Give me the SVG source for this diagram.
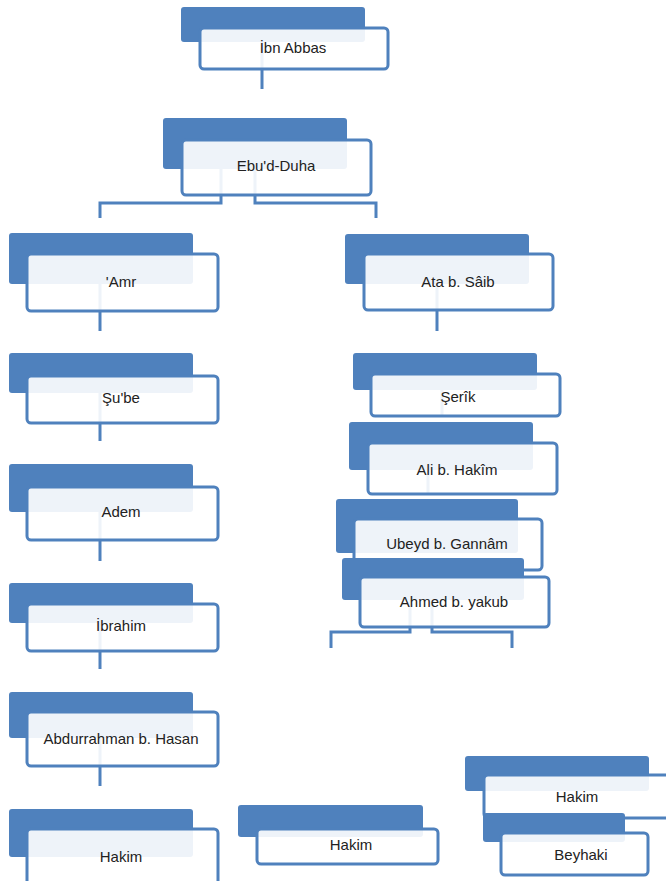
<svg xmlns="http://www.w3.org/2000/svg" width="666" height="881" viewBox="0 0 666 881">
<style>
.bk{fill:#4F81BD;}
.fr{fill:#FFFFFF;fill-opacity:0.9;stroke:#4F81BD;stroke-width:3;}
.t{font-family:"Liberation Sans",Arial,sans-serif;font-size:15px;fill:#222;text-anchor:middle;}
.c{fill:none;stroke:#4F81BD;stroke-width:3;}
</style>
<rect width="666" height="881" fill="#FFFFFF"/>
<g id="connectors">
<path class="c" d="M262 41V89"/>
<path class="c" d="M221 169V203H100V218"/>
<path class="c" d="M255 169V203H376V218"/>
<path class="c" d="M100 284V331"/>
<path class="c" d="M437 284V331"/>
<path class="c" d="M100 393V441"/>
<path class="c" d="M100 512V561"/>
<path class="c" d="M100 623V669"/>
<path class="c" d="M100 738V786"/>
<path class="c" d="M442 390V416"/>
<path class="c" d="M428 470V494"/>
<path class="c" d="M410 600V632H331V648"/>
<path class="c" d="M432 600V632H512V648"/>
</g>
<g id="n1"><rect class="bk" x="181" y="7" width="184" height="35" rx="3"/><rect class="fr" x="200" y="28" width="188" height="41" rx="4"/><text class="t" x="293" y="53">İbn Abbas</text></g>
<g id="n2"><rect class="bk" x="163" y="118" width="184" height="51" rx="3"/><rect class="fr" x="182" y="140" width="189" height="55" rx="4"/><text class="t" x="276" y="171">Ebu'd-Duha</text></g>
<g id="n3"><rect class="bk" x="9" y="233" width="184" height="51" rx="3"/><rect class="fr" x="27" y="254" width="191" height="57" rx="4"/><text class="t" x="121" y="287">'Amr</text></g>
<g id="n4"><rect class="bk" x="345" y="234" width="184" height="50" rx="3"/><rect class="fr" x="364" y="254" width="189" height="56" rx="4"/><text class="t" x="458" y="287">Ata b. Sâib</text></g>
<g id="n5"><rect class="bk" x="9" y="353" width="184" height="40" rx="3"/><rect class="fr" x="27" y="376" width="191" height="47" rx="4"/><text class="t" x="121" y="403">Şu'be</text></g>
<g id="n6"><rect class="bk" x="9" y="464" width="184" height="48" rx="3"/><rect class="fr" x="27" y="487" width="191" height="53" rx="4"/><text class="t" x="121" y="517">Adem</text></g>
<g id="n7"><rect class="bk" x="9" y="583" width="184" height="40" rx="3"/><rect class="fr" x="27" y="604" width="191" height="47" rx="4"/><text class="t" x="121" y="631">İbrahim</text></g>
<g id="n8"><rect class="bk" x="9" y="692" width="184" height="46" rx="3"/><rect class="fr" x="27" y="712" width="191" height="54" rx="4"/><text class="t" x="121" y="744">Abdurrahman b. Hasan</text></g>
<g id="n9"><rect class="bk" x="9" y="809" width="184" height="48" rx="3"/><rect class="fr" x="27" y="829" width="191" height="60" rx="4"/><text class="t" x="121" y="862">Hakim</text></g>
<g id="n10"><rect class="bk" x="353" y="353" width="184" height="37" rx="3"/><rect class="fr" x="371" y="374" width="189" height="42" rx="4"/><text class="t" x="458" y="402">Şerîk</text></g>
<g id="n11"><rect class="bk" x="349" y="422" width="184" height="48" rx="3"/><rect class="fr" x="368" y="443" width="189" height="51" rx="4"/><text class="t" x="457" y="475">Ali b. Hakîm</text></g>
<g id="n12"><rect class="bk" x="336" y="499" width="182" height="54" rx="3"/><rect class="fr" x="354" y="519" width="188" height="51" rx="4"/><text class="t" x="447" y="549">Ubeyd b. Gannâm</text></g>
<g id="n13"><rect class="bk" x="342" y="558" width="182" height="42" rx="3"/><rect class="fr" x="360" y="577" width="189" height="50" rx="4"/><text class="t" x="454" y="607">Ahmed b. yakub</text></g>
<g id="n14"><rect class="bk" x="238" y="805" width="185" height="32" rx="3"/><rect class="fr" x="257" y="829" width="181" height="35" rx="4"/><text class="t" x="351" y="850">Hakim</text></g>
<g id="n15"><rect class="bk" x="465" y="756" width="184" height="35" rx="3"/><rect class="fr" x="484" y="775" width="190" height="43" rx="4"/><text class="t" x="577" y="802">Hakim</text></g>
<g id="n16"><rect class="bk" x="483" y="813" width="142" height="29" rx="3"/><rect class="fr" x="501" y="833" width="147" height="42" rx="4"/><text class="t" x="581" y="860">Beyhaki</text></g>
</svg>
